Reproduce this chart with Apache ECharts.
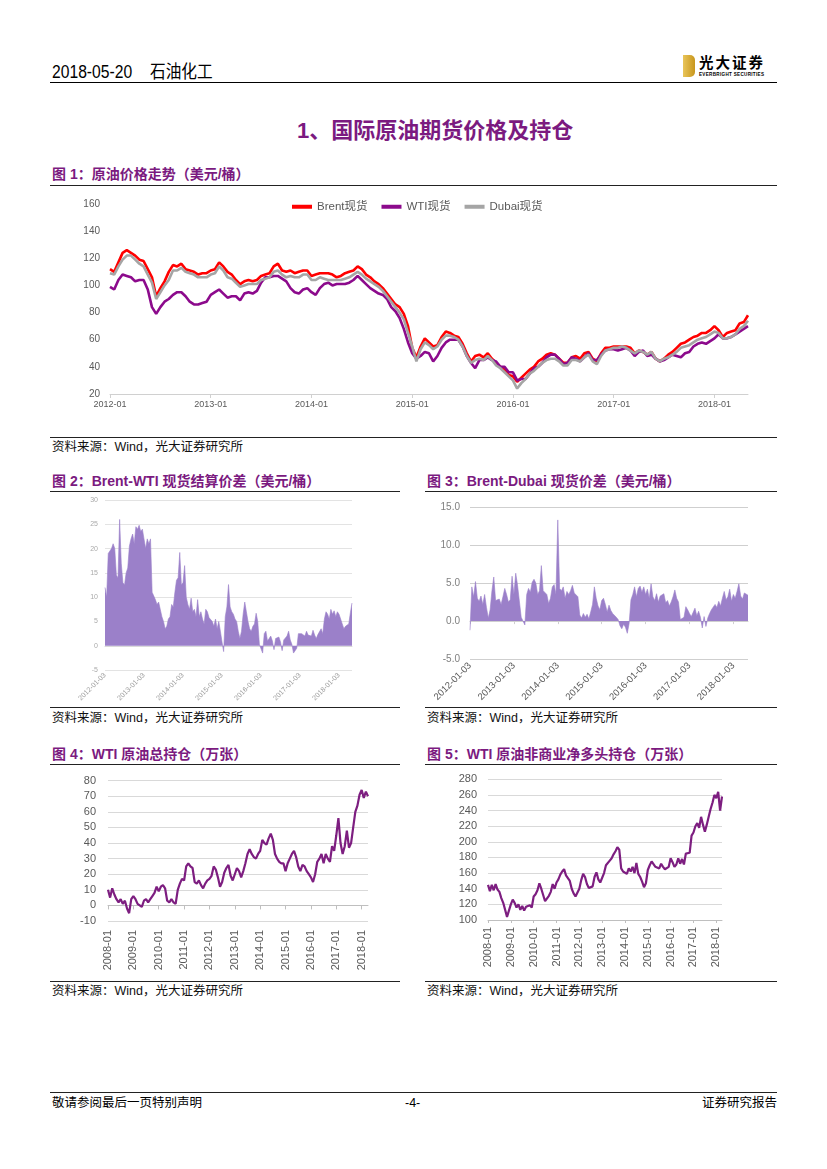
<!DOCTYPE html>
<html><head><meta charset="utf-8">
<script src="https://cdn.jsdelivr.net/npm/echarts@6.0.0/dist/echarts.min.js"></script>
<style>
html,body{margin:0;padding:0;background:#fff;}
body{width:827px;height:1169px;position:relative;overflow:hidden;font-family:"Liberation Sans","Noto Sans CJK SC",sans-serif;color:#000;}
.t{position:absolute;white-space:nowrap;}
.hl{position:absolute;height:0;border-top:1px solid #222;}
.ft{font-size:14px;font-weight:700;color:#7b1a80;line-height:20px;}
.src{font-size:12.5px;line-height:16px;color:#111;}
.ch{position:absolute;}
</style></head>
<body>
<!-- header -->
<div class="t" style="left:52px;top:62px;font-size:18px;line-height:20px;transform:scaleX(0.87);transform-origin:left center;">2018-05-20</div>
<div class="t" style="left:150px;top:62px;font-size:18px;line-height:20px;transform:scaleX(0.87);transform-origin:left center;">石油化工</div>
<div style="position:absolute;left:683px;top:55px;width:12px;height:22px;background:linear-gradient(90deg,#e9c55a,#c8961c);border-radius:0 5px 5px 0;"></div>
<div class="t" style="left:699px;top:54px;font-size:14.5px;font-weight:700;line-height:18px;letter-spacing:2px;">光大证券</div>
<div class="t" style="left:699px;top:72px;font-size:4.6px;font-weight:700;line-height:6px;letter-spacing:0.3px;">EVERBRIGHT SECURITIES</div>
<div class="hl" style="left:50px;top:82px;width:727px;border-top:1.5px solid #000;"></div>

<!-- section heading -->
<div class="t" style="left:297px;top:116px;font-size:22px;font-weight:700;line-height:29px;color:#7b1a80;">1、国际原油期货价格及持仓</div>

<!-- fig 1 -->
<div class="t ft" style="left:52px;top:164px;">图 1：原油价格走势（美元/桶）</div>
<div class="hl" style="left:50px;top:185px;width:727px;"></div>
<div id="c1" class="ch" style="left:50px;top:188px;width:727px;height:245px;"></div>
<div class="hl" style="left:50px;top:437px;width:727px;"></div>
<div class="t src" style="left:52px;top:439px;">资料来源：Wind，光大证券研究所</div>

<!-- fig 2 / 3 -->
<div class="t ft" style="left:52px;top:471px;">图 2：Brent-WTI 现货结算价差（美元/桶）</div>
<div class="t ft" style="left:427px;top:471px;">图 3：Brent-Dubai 现货价差（美元/桶）</div>
<div class="hl" style="left:50px;top:491px;width:350px;"></div>
<div class="hl" style="left:425px;top:491px;width:352px;"></div>
<div id="c2" class="ch" style="left:50px;top:494px;width:350px;height:210px;"></div>
<div id="c3" class="ch" style="left:425px;top:494px;width:352px;height:210px;"></div>
<div class="hl" style="left:50px;top:707px;width:350px;"></div>
<div class="hl" style="left:425px;top:707px;width:352px;"></div>
<div class="t src" style="left:52px;top:710px;">资料来源：Wind，光大证券研究所</div>
<div class="t src" style="left:427px;top:710px;">资料来源：Wind，光大证券研究所</div>

<!-- fig 4 / 5 -->
<div class="t ft" style="left:52px;top:744px;">图 4：WTI 原油总持仓（万张）</div>
<div class="t ft" style="left:427px;top:744px;">图 5：WTI 原油非商业净多头持仓（万张）</div>
<div class="hl" style="left:50px;top:764px;width:350px;"></div>
<div class="hl" style="left:425px;top:764px;width:352px;"></div>
<div id="c4" class="ch" style="left:50px;top:768px;width:350px;height:208px;"></div>
<div id="c5" class="ch" style="left:425px;top:768px;width:352px;height:208px;"></div>
<div class="hl" style="left:50px;top:981px;width:350px;"></div>
<div class="hl" style="left:425px;top:981px;width:352px;"></div>
<div class="t src" style="left:52px;top:983px;">资料来源：Wind，光大证券研究所</div>
<div class="t src" style="left:427px;top:983px;">资料来源：Wind，光大证券研究所</div>

<!-- footer -->
<div class="hl" style="left:50px;top:1092px;width:727px;"></div>
<div class="t" style="left:52px;top:1095px;font-size:12.5px;line-height:16px;">敬请参阅最后一页特别声明</div>
<div class="t" style="left:405px;top:1095px;font-size:12.5px;line-height:16px;">-4-</div>
<div class="t" style="right:50px;top:1095px;font-size:12.5px;line-height:16px;">证券研究报告</div>

<script>
// ---------- data ----------
// Chart 1: semi-monthly points, 2012-01 .. 2018-05 (USD/bbl)
const brent = [
112,110,117,124,126,124,122,119,118,112,106,92,98,103,110,115,114,116,112,111,110,108,109,109,
111,112,117,114,110,108,104,101,103,104,103,104,107,108,109,114,116,111,110,111,109,110,111,111,
107,108,109,109,109,108,106,107,109,110,111,114,112,108,106,103,101,98,94,90,86,84,79,70,
54,47,55,61,58,55,56,62,66,65,63,62,57,50,44,48,49,47,50,46,43,40,38,34,
33,29,32,35,38,40,44,46,49,50,49,46,43,43,47,48,46,50,51,46,44,50,54,54,
55,55,55,55,54,50,52,51,49,51,46,44,46,49,51,54,57,58,60,62,63,65,65,67,
70,67,62,65,66,67,72,73,78];
const wti = [
99,97,104,108,107,106,103,104,104,97,84,79,84,88,90,93,95,95,92,88,86,86,87,88,
93,95,97,94,91,92,92,89,94,95,94,96,102,106,106,107,107,105,103,98,95,94,97,98,
95,93,98,101,102,100,101,101,101,102,104,107,104,101,98,96,94,93,90,84,81,76,68,58,
50,46,48,51,50,44,48,54,58,60,60,60,55,48,43,39,45,45,47,45,44,40,40,36,
36,30,31,31,35,39,40,43,47,49,49,46,42,43,47,46,44,47,50,45,45,49,52,53,
53,52,53,54,52,48,51,52,48,49,46,44,45,47,49,48,47,50,51,55,57,58,57,59,
61,64,61,61,62,64,66,68,70];
const dubai = [
109,108,114,119,122,122,119,116,114,108,102,90,95,100,104,111,111,113,110,109,108,106,106,106,
108,109,114,111,106,105,102,99,100,101,101,101,104,105,106,110,111,108,106,107,106,106,108,108,
104,104,106,105,104,104,104,104,105,106,108,110,108,105,103,101,99,96,92,88,84,80,75,65,
55,44,53,58,56,53,55,60,63,63,62,60,55,48,43,45,46,45,48,45,41,39,36,33,
30,24,28,31,35,37,40,43,45,46,46,44,41,41,45,45,44,47,49,44,42,48,52,53,
54,54,55,54,52,50,52,51,49,51,46,44,46,47,49,51,54,55,56,58,60,61,62,64,
66,65,61,61,62,64,68,70,74];
// Chart 2: Brent-WTI spread, semi-monthly 2012-01 .. 2018-05
const spreadBW = [
12,10,19,19.5,20,21,20,14.5,14,26,17,13,12.5,15,16,20.5,22,23,21,24.5,24,24.8,23.5,24,
22,20,22,21,22,11,11,9.5,8.5,9,7.5,6,5,3.5,4,5.5,6,8.5,8,11,13.5,14,19.2,12.5,
13,16.5,10,8.5,7.5,9.8,7,7.5,6,9.5,6,7,5.5,4.5,7.5,7,5.8,6,5,4,5.5,3.5,5,3,
0.8,-1.2,6,8,12.6,8,7,6.5,5.5,5,3,1.5,3,6.5,9,7,5,3.5,3,4,4.5,6.7,5,0.3,
0.5,-1.5,2.5,3,1,1.5,2,1,-0.8,1.5,1.2,1.8,0.8,-1,1.2,1.5,2,3,1.2,0.3,-1.5,-1.2,-0.5,2.5,
2.8,2.5,2.5,2,3,2.2,2.5,2,3.2,2.2,1.5,2.3,2.5,3.5,2.5,5.5,7,6.5,5.5,7.5,6.5,7.2,6,7,
6.5,5.5,4.5,3.5,4,3.8,4.5,6.8,8.8];
// Chart 3: Brent-Dubai spread, semi-monthly 2012-01 .. 2018-05
const spreadBD = [
-1.2,4.5,3.2,5.2,3.0,2.6,3.3,2.2,3.5,1.8,0.4,1.5,4.0,5.8,2.7,2.5,2.9,2.2,3.2,4.3,3.5,2.5,2.8,5.9,
3.5,6.3,4.7,4.5,0.5,0.6,-0.5,3.5,4.3,3.8,5.1,5.5,5.0,3.5,4.0,7.3,4.0,4.2,3.5,2.3,3.0,4.5,4.8,3.5,
13.3,4.3,4.0,4.5,3.0,3.9,3.5,4.0,4.7,3.7,3.9,3.2,0.8,0.4,1.0,0.5,0.9,0.3,1.2,2.2,4.5,3.0,2.0,1.5,
2.7,3.0,2.2,1.2,2.1,1.4,1.0,0.8,0.5,0.2,-0.6,-1.0,-0.4,-0.8,-1.6,-0.3,2.8,3.5,4.5,3.2,4.3,4.6,3.8,4.5,
3.5,4.2,3.0,4.9,3.2,2.7,3.6,2.5,3.3,3.1,3.6,2.4,2.7,2.0,2.5,3.2,4.1,3.0,2.5,0.2,0.3,0.5,1.9,1.5,
1.0,0.6,0.8,1.7,0.7,1.3,0.5,-0.9,0.6,-0.7,0.4,1.0,1.5,1.3,2.2,1.8,2.6,2.0,3.0,3.9,2.8,3.2,4.2,2.6,
3.5,3.0,3.9,4.9,3.3,2.9,3.7,3.8,3.4];
// Chart 4: WTI total open interest, monthly 2008-01 .. 2018-04 (10k contracts)
const wtiOI = [
10,5,11,7,4,2,4,1,3,-2,-5,4,
6,4,1,0,-1,3,4,2,4,6,8,12,
9,12,13,11,3,2,4,2,1,10,14,17,
16,25,27,25,24,15,14,16,13,11,14,16,
17,19,25,23,18,12,15,21,24,26,19,16,
20,24,22,18,22,27,33,36,33,31,30,33,
35,42,40,39,43,46,42,33,30,28,27,27,
22,27,30,33,35,31,25,22,26,25,22,20,
18,15,20,28,30,33,27,33,30,28,38,35,
45,56,40,33,38,48,37,40,50,60,64,71,
74,69,73,70];
// Chart 5: WTI non-commercial net long, monthly 2008-01 .. 2018-04 (10k contracts)
const wtiNetLong = [
145,137,145,138,146,139,136,128,122,124,104,112,
120,126,122,116,120,113,118,112,117,115,119,116,
130,133,138,147,140,132,124,126,131,136,146,140,
148,152,158,162,165,157,156,150,140,134,130,131,
140,151,159,155,146,141,140,143,155,161,152,148,
150,160,170,172,176,179,184,188,193,190,166,162,
162,159,166,162,168,160,173,159,155,149,142,147,
164,170,175,176,168,170,166,172,168,165,166,168,
179,174,168,171,179,172,178,171,185,183,186,208,
212,220,224,218,232,222,213,222,232,242,250,260,
256,264,240,258];

// ---------- categories ----------
function semiMonthCats(y0, n){const a=[];for(let i=0;i<n;i++){const y=y0+Math.floor(i/24);const m=Math.floor((i%24)/2)+1;a.push(y+'-'+String(m).padStart(2,'0')+(i%2?'-16':'-01'));}return a;}
function monthCats(y0, n){const a=[];for(let i=0;i<n;i++){const y=y0+Math.floor(i/12);const m=i%12+1;a.push(y+'-'+String(m).padStart(2,'0'));}return a;}
const cats1 = semiMonthCats(2012, brent.length);
const cats2 = semiMonthCats(2012, spreadBW.length);
const cats3 = semiMonthCats(2012, spreadBD.length);
const cats4 = monthCats(2008, wtiOI.length);
const cats5 = monthCats(2008, wtiNetLong.length);

const FONT = 'Liberation Sans, Noto Sans CJK SC, sans-serif';
const yearSemi = (i) => i % 24 === 0;
const yearMon = (i) => i % 12 === 0;

// ---------- chart 1 ----------
echarts.init(document.getElementById('c1')).setOption({
  animation:false,
  textStyle:{fontFamily:FONT},
  grid:{left:60,right:29,top:16,bottom:39},
  legend:{top:8,left:237,icon:'rect',itemWidth:20,itemHeight:4,itemGap:14,
    textStyle:{fontSize:11.5,color:'#595959',fontFamily:FONT},
    data:['Brent现货','WTI现货','Dubai现货']},
  xAxis:{type:'category',data:cats1,boundaryGap:false,
    axisLine:{lineStyle:{color:'#d0d0d0',width:1}},
    axisTick:{interval:yearSemi,length:4,lineStyle:{color:'#d0d0d0'}},
    axisLabel:{interval:yearSemi,formatter:v=>v.slice(0,7),fontSize:9,color:'#595959',margin:6,fontFamily:FONT},
    splitLine:{show:false}},
  yAxis:{type:'value',min:20,max:160,interval:20,
    axisLine:{show:false},axisTick:{show:false},splitLine:{show:false},
    axisLabel:{fontSize:10,color:'#595959',margin:10,fontFamily:FONT}},
  series:[
    {name:'Brent现货',type:'line',data:brent,showSymbol:false,lineStyle:{width:2.6,color:'#ff0000'},itemStyle:{color:'#ff0000'}},
    {name:'WTI现货',type:'line',data:wti,showSymbol:false,lineStyle:{width:2.6,color:'#8c0a8c'},itemStyle:{color:'#8c0a8c'}},
    {name:'Dubai现货',type:'line',data:dubai,showSymbol:false,lineStyle:{width:2.6,color:'#a5a5a5'},itemStyle:{color:'#a5a5a5'}}
  ]
});

// ---------- chart 2 ----------
echarts.init(document.getElementById('c2')).setOption({
  animation:false,
  textStyle:{fontFamily:FONT},
  grid:{left:55,right:48,top:6,bottom:11},
  xAxis:{type:'category',data:cats2,boundaryGap:false,
    axisLine:{onZero:true,lineStyle:{color:'#d9d9d9'}},axisTick:{show:false},
    axisLabel:{interval:yearSemi,rotate:45,formatter:v=>v.slice(0,7)+'-03',fontSize:7,color:'#999',margin:4,fontFamily:FONT}},
  yAxis:{type:'value',min:-5,max:30,interval:5,
    axisLine:{show:false},axisTick:{show:false},
    splitLine:{lineStyle:{color:'#e3e3e3'}},
    axisLabel:{fontSize:7,color:'#aaa',margin:7,fontFamily:FONT}},
  series:[{type:'line',data:spreadBW,showSymbol:false,
    lineStyle:{width:0.6,color:'#9b80c9'},areaStyle:{color:'#9b80c9',opacity:1}}]
});

// ---------- chart 3 ----------
echarts.init(document.getElementById('c3')).setOption({
  animation:false,
  textStyle:{fontFamily:FONT},
  grid:{left:45,right:29,top:13,bottom:29},
  xAxis:{type:'category',data:cats3,boundaryGap:false,
    axisLine:{onZero:true,lineStyle:{color:'#cfcfcf'}},
    axisTick:{interval:yearSemi,length:3,lineStyle:{color:'#cfcfcf'}},
    axisLabel:{interval:yearSemi,rotate:45,formatter:v=>v.slice(0,7)+'-03',fontSize:9.5,color:'#595959',margin:5,fontFamily:FONT}},
  yAxis:{type:'value',min:-5,max:15,interval:5,
    axisLine:{show:false},axisTick:{show:false},
    splitLine:{lineStyle:{color:'#cfcfcf'}},
    axisLabel:{formatter:v=>v.toFixed(1),fontSize:10,color:'#808080',margin:10,fontFamily:FONT}},
  series:[{type:'line',data:spreadBD,showSymbol:false,
    lineStyle:{width:0.6,color:'#9b80c9'},areaStyle:{color:'#9b80c9',opacity:1}}]
});

// ---------- chart 4 ----------
echarts.init(document.getElementById('c4')).setOption({
  animation:false,
  textStyle:{fontFamily:FONT},
  grid:{left:58,right:32,top:12.7,bottom:55},
  xAxis:[
    {type:'category',data:cats4,boundaryGap:false,position:'bottom',
      axisLine:{onZero:false,show:false},axisTick:{show:false},
      axisLabel:{interval:yearMon,rotate:90,fontSize:11,color:'#595959',margin:9,fontFamily:FONT}},
    {type:'category',data:cats4,boundaryGap:false,position:'bottom',
      axisLine:{onZero:true,lineStyle:{color:'#bfbfbf'}},
      axisTick:{interval:yearMon,length:4,lineStyle:{color:'#bfbfbf'}},
      axisLabel:{show:false}}
  ],
  yAxis:{type:'value',min:-10,max:80,interval:10,
    axisLine:{show:false},axisTick:{show:false},
    splitLine:{lineStyle:{color:'#d9d9d9'}},
    axisLabel:{fontSize:11,color:'#595959',margin:12,fontFamily:FONT}},
  series:[{type:'line',xAxisIndex:0,data:wtiOI,showSymbol:false,lineStyle:{width:2.2,color:'#7d1e80'}}]
});

// ---------- chart 5 ----------
echarts.init(document.getElementById('c5')).setOption({
  animation:false,
  textStyle:{fontFamily:FONT},
  grid:{left:63,right:55,top:11.3,bottom:56},
  xAxis:{type:'category',data:cats5,boundaryGap:false,
    axisLine:{lineStyle:{color:'#bfbfbf'}},
    axisTick:{interval:yearMon,length:3,lineStyle:{color:'#bfbfbf'}},
    axisLabel:{interval:yearMon,rotate:90,fontSize:11,color:'#595959',margin:7,fontFamily:FONT}},
  yAxis:{type:'value',min:100,max:280,interval:20,
    axisLine:{show:false},axisTick:{show:false},
    splitLine:{lineStyle:{color:'#d9d9d9'}},
    axisLabel:{fontSize:11,color:'#595959',margin:11,fontFamily:FONT}},
  series:[{type:'line',data:wtiNetLong,showSymbol:false,lineStyle:{width:2.2,color:'#7d1e80'}}]
});
</script>
</body></html>
